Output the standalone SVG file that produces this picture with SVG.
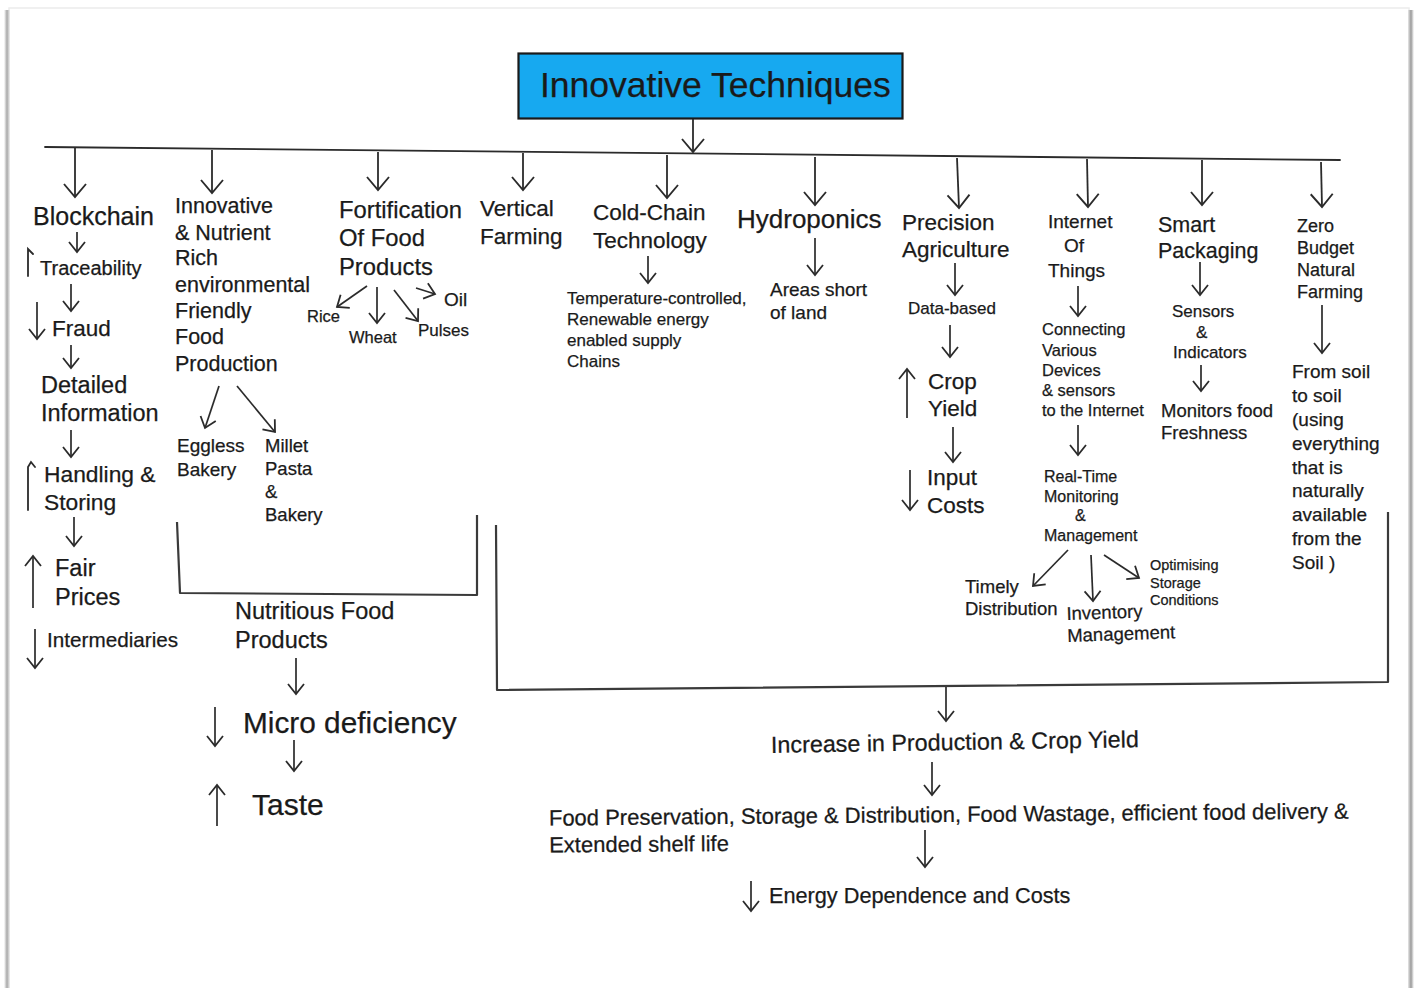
<svg xmlns="http://www.w3.org/2000/svg" width="1416" height="988" viewBox="0 0 1416 988">
  <defs>
    <!-- open chevron heads, tip at origin -->
    <marker id="head" markerUnits="userSpaceOnUse" orient="auto" overflow="visible" markerWidth="30" markerHeight="30">
      <path d="M-13,-11 L0,0 L-13,11" fill="none" stroke="#2b2b2b" stroke-width="1.9" stroke-linejoin="miter"/>
    </marker>
    <marker id="head-s" markerUnits="userSpaceOnUse" orient="auto" overflow="visible" markerWidth="30" markerHeight="30">
      <path d="M-10,-8 L0,0 L-10,8" fill="none" stroke="#2b2b2b" stroke-width="1.8"/>
    </marker>
    <linearGradient id="edgeL" x1="0" x2="1" y1="0" y2="0">
      <stop offset="0" stop-color="#ffffff"/>
      <stop offset="0.5" stop-color="#a8a8a8"/>
      <stop offset="1" stop-color="#f2f2f2"/>
    </linearGradient>
    <linearGradient id="edgeR" x1="0" x2="1" y1="0" y2="0">
      <stop offset="0" stop-color="#e8e8e8"/>
      <stop offset="0.5" stop-color="#9a9a9a"/>
      <stop offset="1" stop-color="#ffffff"/>
    </linearGradient>
  </defs>
  <style>
    text { font-family: "Liberation Sans", Arial, sans-serif; fill: #1a1a1a; stroke: #1a1a1a; stroke-width: 0.25px; }
    .ln { fill: none; stroke: #2b2b2b; stroke-width: 1.8; stroke-linecap: round; }
    .ar { fill: none; stroke: #2b2b2b; stroke-width: 1.8; marker-end: url(#head); }
    .as { fill: none; stroke: #2b2b2b; stroke-width: 1.7; marker-end: url(#head-s); }
    .brk { fill: none; stroke: #3a3a3a; stroke-width: 2.2; stroke-linejoin: round; }
    .f16 { font-size: 16.5px; }
    .f17 { font-size: 17px; }
    .f18 { font-size: 18.5px; }
    .f19 { font-size: 19px; }
    .f21 { font-size: 21.5px; }
    .f22 { font-size: 22.5px; }
    .f23 { font-size: 23.5px; }
  </style>

  <!-- page -->
  <rect x="0" y="0" width="1416" height="988" fill="#ffffff"/>
  <rect x="9" y="8" width="1400" height="990" fill="#ffffff" stroke="#ececec" stroke-width="1.5"/>
  <rect x="4" y="10" width="6" height="978" fill="url(#edgeL)"/>
  <rect x="1408" y="10" width="6" height="978" fill="url(#edgeR)"/>

  <!-- root -->
  <g id="innovative-techniques">
    <rect x="518.500" y="53.500" width="384" height="65" fill="#17a9f0" stroke="#1a1a1a" stroke-width="2.2"/>
    <text x="540" y="97" style="font-size:35.5px">Innovative Techniques</text>
  </g>

  <g id="connectors">
    <path class="ar" d="M693,119 V152"/>
    <path class="ln" d="M45,147 L1340,160"/>
    <!-- branch drops -->
    <path class="ar" d="M75,148 V197"/>
    <path class="ar" d="M212,150 V193"/>
    <path class="ar" d="M378,152 V190"/>
    <path class="ar" d="M523,153 V190"/>
    <path class="ar" d="M667,155 V198"/>
    <path class="ar" d="M815,157 V205"/>
    <path class="ar" d="M957,158 L959,208"/>
    <path class="ar" d="M1087,159 L1088,207"/>
    <path class="ar" d="M1202,160 V205"/>
    <path class="ar" d="M1321,162 L1322,207"/>

    <!-- blockchain chain -->
    <path class="as" d="M77,232 V252"/>
    <path class="as" d="M71,284 V311"/>
    <path class="as" d="M71,345 V368"/>
    <path class="as" d="M71,430 V457"/>
    <path class="as" d="M74,517 V546"/>

    <!-- innovative & nutrient -->
    <path class="as" d="M219,386 L205,428"/>
    <path class="as" d="M237,386 L275,432"/>

    <!-- fortification -->
    <path class="as" d="M367,286 L337,307"/>
    <path class="as" d="M377,287 V323"/>
    <path class="as" d="M394,290 L418,321"/>
    <path class="as" d="M416,288 L435,294"/>

    <!-- cold chain / hydroponics -->
    <path class="as" d="M648,256 V283"/>
    <path class="as" d="M815,238 V275"/>

    <!-- precision agriculture -->
    <path class="as" d="M955,263 V295"/>
    <path class="as" d="M950,325 V357"/>
    <path class="as" d="M953,427 V462"/>

    <!-- internet of things -->
    <path class="as" d="M1078,286 V316"/>
    <path class="as" d="M1078,425 V455"/>
    <path class="as" d="M1068,550 L1033,586"/>
    <path class="as" d="M1091,555 L1093,601"/>
    <path class="as" d="M1104,555 L1139,578"/>

    <!-- smart packaging / zero budget -->
    <path class="as" d="M1200,262 V295"/>
    <path class="as" d="M1201,365 V391"/>
    <path class="as" d="M1322,305 V353"/>

    <!-- brackets -->
    <path class="brk" d="M177,522 L180,593 L477,595 L477,515"/>
    <path class="brk" d="M496,525 L497,690 L1388,682 L1388,512"/>

    <!-- outcomes -->
    <path class="as" d="M296,658 V694"/>
    <path class="as" d="M294,740 V771"/>
    <path class="as" d="M946,687 V721"/>
    <path class="as" d="M932,762 V795"/>
    <path class="as" d="M925,830 V867"/>
  </g>

  <!-- up / down markers beside labels -->
  <g id="trend-marks">
    <path class="ln" d="M28,276 V249 L33,254"/>
    <path class="as" d="M37,302 V339"/>
    <path class="ln" d="M28,510 V467 L31,462 L35,467"/>
    <path class="as" d="M33,608 V556"/>
    <path class="as" d="M35,629 V668"/>
    <path class="as" d="M907,418 V369"/>
    <path class="as" d="M910,470 V510"/>
    <path class="as" d="M215,707 V746"/>
    <path class="as" d="M217,826 V785"/>
    <path class="as" d="M751,881 V911"/>
  </g>

  <g id="blockchain">
    <text x="33" y="225" style="font-size:25px">Blockchain</text>
    <text x="40" y="275" style="font-size:20px">Traceability</text>
    <text x="52" y="336" class="f22">Fraud</text>
    <text x="41" y="393" class="f23">Detailed</text>
    <text x="41" y="421" class="f23">Information</text>
    <text x="44" y="482" style="font-size:22.8px">Handling &amp;</text>
    <text x="44" y="510" style="font-size:22.8px">Storing</text>
    <text x="55" y="576" class="f23">Fair</text>
    <text x="55" y="605" class="f23">Prices</text>
    <text x="47" y="647" style="font-size:20.7px">Intermediaries</text>
  </g>

  <g id="nutrient-rich-production">
    <text x="175" y="213" class="f21">Innovative</text>
    <text x="175" y="240" class="f21">&amp; Nutrient</text>
    <text x="175" y="265" class="f21">Rich</text>
    <text x="175" y="292" class="f21">environmental</text>
    <text x="175" y="318" class="f21">Friendly</text>
    <text x="175" y="344" class="f21">Food</text>
    <text x="175" y="371" class="f21">Production</text>
  </g>
  <g id="eggless-bakery">
    <text x="177" y="452" class="f19">Eggless</text>
    <text x="177" y="476" class="f19">Bakery</text>
  </g>
  <g id="millet-pasta">
    <text x="265" y="452" class="f18">Millet</text>
    <text x="265" y="475" class="f18">Pasta</text>
    <text x="265" y="498" class="f18">&amp;</text>
    <text x="265" y="521" class="f18">Bakery</text>
  </g>

  <g id="fortification">
    <text x="339" y="218" style="font-size:23.8px">Fortification</text>
    <text x="339" y="246" style="font-size:23.8px">Of Food</text>
    <text x="339" y="275" style="font-size:23.8px">Products</text>
    <text x="307" y="322" style="font-size:16.5px">Rice</text>
    <text x="349" y="343" style="font-size:16.5px">Wheat</text>
    <text x="418" y="336" style="font-size:17px">Pulses</text>
    <text x="444" y="306" class="f19">Oil</text>
  </g>

  <g id="vertical-farming">
    <text x="480" y="216" class="f22">Vertical</text>
    <text x="480" y="244" class="f22">Farming</text>
  </g>

  <g id="cold-chain">
    <text x="593" y="220" class="f22">Cold-Chain</text>
    <text x="593" y="248" class="f22">Technology</text>
    <text x="567" y="304" class="f17">Temperature-controlled,</text>
    <text x="567" y="325" class="f17">Renewable energy</text>
    <text x="567" y="346" class="f17">enabled supply</text>
    <text x="567" y="367" class="f17">Chains</text>
  </g>

  <g id="hydroponics">
    <text x="737" y="228" style="font-size:26px">Hydroponics</text>
    <text x="770" y="296" class="f19">Areas short</text>
    <text x="770" y="319" class="f19">of land</text>
  </g>

  <g id="precision-agriculture">
    <text x="902" y="230" class="f22">Precision</text>
    <text x="902" y="257" class="f22">Agriculture</text>
    <text x="908" y="314" class="f17">Data-based</text>
    <text x="928" y="389" class="f22">Crop</text>
    <text x="928" y="416" class="f22">Yield</text>
    <text x="927" y="485" class="f22">Input</text>
    <text x="927" y="513" class="f22">Costs</text>
  </g>

  <g id="internet-of-things">
    <text x="1048" y="228" class="f19">Internet</text>
    <text x="1064" y="252" class="f19">Of</text>
    <text x="1048" y="277" class="f19">Things</text>
    <text x="1042" y="335" class="f16">Connecting</text>
    <text x="1042" y="356" class="f16">Various</text>
    <text x="1042" y="376" class="f16">Devices</text>
    <text x="1042" y="396" class="f16">&amp; sensors</text>
    <text x="1042" y="416" class="f16">to the Internet</text>
  </g>
  <g id="real-time-monitoring">
    <text x="1044" y="482" style="font-size:16px">Real-Time</text>
    <text x="1044" y="502" style="font-size:16px">Monitoring</text>
    <text x="1075" y="521" style="font-size:16px">&amp;</text>
    <text x="1044" y="541" style="font-size:16px">Management</text>
  </g>
  <g id="timely-distribution">
    <text x="965" y="593" class="f18">Timely</text>
    <text x="965" y="615" class="f18">Distribution</text>
  </g>
  <g id="inventory-management" transform="rotate(-2 1067 630)">
    <text x="1067" y="620" class="f18">Inventory</text>
    <text x="1067" y="642" class="f18">Management</text>
  </g>
  <g id="optimising-storage">
    <text x="1150" y="570" style="font-size:14.5px">Optimising</text>
    <text x="1150" y="588" style="font-size:14.5px">Storage</text>
    <text x="1150" y="605" style="font-size:14.5px">Conditions</text>
  </g>

  <g id="smart-packaging">
    <text x="1158" y="232" class="f21">Smart</text>
    <text x="1158" y="258" class="f21">Packaging</text>
    <text x="1172" y="317" class="f17">Sensors</text>
    <text x="1196" y="338" class="f17">&amp;</text>
    <text x="1173" y="358" class="f17">Indicators</text>
    <text x="1161" y="417" class="f18">Monitors food</text>
    <text x="1161" y="439" class="f18">Freshness</text>
  </g>

  <g id="zero-budget-farming">
    <text x="1297" y="232" style="font-size:18px">Zero</text>
    <text x="1297" y="254" style="font-size:18px">Budget</text>
    <text x="1297" y="276" style="font-size:18px">Natural</text>
    <text x="1297" y="298" style="font-size:18px">Farming</text>
    <text x="1292" y="378" class="f19">From soil</text>
    <text x="1292" y="402" class="f19">to soil</text>
    <text x="1292" y="426" class="f19">(using</text>
    <text x="1292" y="450" class="f19">everything</text>
    <text x="1292" y="474" class="f19">that is</text>
    <text x="1292" y="497" class="f19">naturally</text>
    <text x="1292" y="521" class="f19">available</text>
    <text x="1292" y="545" class="f19">from the</text>
    <text x="1292" y="569" class="f19">Soil )</text>
  </g>

  <g id="nutritious-food">
    <text x="235" y="619" class="f23">Nutritious Food</text>
    <text x="235" y="648" class="f23">Products</text>
  </g>
  <g id="micro-deficiency">
    <text x="243" y="733" style="font-size:29.8px">Micro deficiency</text>
  </g>
  <g id="taste">
    <text x="252" y="815" style="font-size:30px">Taste</text>
  </g>

  <g id="increase-production" transform="rotate(-0.9 955 745)">
    <text x="771" y="750" style="font-size:23.3px">Increase in Production &amp; Crop Yield</text>
  </g>
  <g id="food-preservation" transform="rotate(-0.5 950 830)">
    <text x="549" y="822" style="font-size:22px">Food Preservation, Storage &amp; Distribution, Food Wastage, efficient food delivery &amp;</text>
    <text x="549" y="849" style="font-size:22px">Extended shelf life</text>
  </g>
  <g id="energy-dependence">
    <text x="769" y="903" style="font-size:21.7px">Energy Dependence and Costs</text>
  </g>
</svg>
